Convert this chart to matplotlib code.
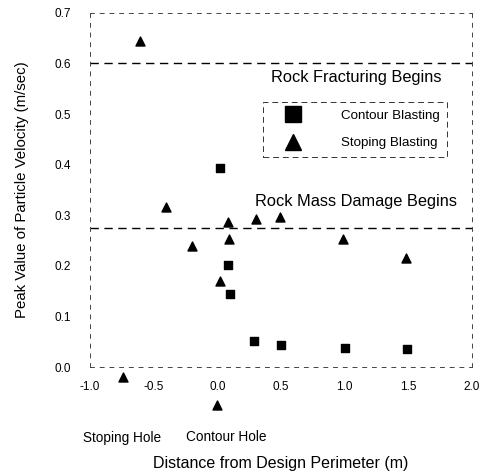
import matplotlib
matplotlib.use('Agg')
import matplotlib.pyplot as plt
from matplotlib.lines import Line2D

# Contour blasting (squares)
contour_x = [0.02, 0.08, 0.10, 0.29, 0.50, 1.00, 1.49]
contour_y = [0.394, 0.202, 0.144, 0.052, 0.043, 0.038, 0.036]

# Stoping blasting (triangles)
stoping_x = [-0.61, -0.40, -0.20, 0.02, 0.08, 0.09, 0.30, 0.49, 0.99, 1.48, -0.74, 0.00]
stoping_y = [0.644, 0.317, 0.240, 0.170, 0.287, 0.253, 0.293, 0.297, 0.253, 0.216, -0.020, -0.075]

# damage thresholds
fracture_level = 0.6
damage_level = 0.275

xticks = [-1.0, -0.5, 0.0, 0.5, 1.0, 1.5, 2.0]
yticks = [0.0, 0.1, 0.2, 0.3, 0.4, 0.5, 0.6, 0.7]

plt.rcParams['font.family'] = ['Liberation Sans', 'DejaVu Sans']

fig = plt.figure(figsize=(4.82, 4.75), dpi=100)
ax = fig.add_axes([0.187, 0.227, 0.792, 0.746])

ax.set_xlim(-1.0, 2.0)
ax.set_ylim(0.0, 0.7)

# threshold lines
ax.axhline(fracture_level, color='black', linestyle=(0, (6, 4)), linewidth=1.0)
ax.axhline(damage_level, color='black', linestyle=(0, (6, 4)), linewidth=1.0)

ax.scatter(contour_x, contour_y, marker='s', s=26, color='black', clip_on=False, zorder=3)
ax.scatter(stoping_x, stoping_y, marker='^', s=42, color='black', clip_on=False, zorder=3)

ax.text(1.09, 0.572, 'Rock Fracturing Begins', fontsize=11.8, ha='center', va='center')
ax.text(1.09, 0.327, 'Rock Mass Damage Begins', fontsize=11.8, ha='center', va='center')

# legend
handles = [
    Line2D([], [], marker='s', color='black', linestyle='none', markersize=11),
    Line2D([], [], marker='^', color='black', linestyle='none', markersize=11),
]
leg = ax.legend(handles, ['Contour Blasting', 'Stoping Blasting'],
                loc='upper left', bbox_to_anchor=(0.452, 0.748),
                fontsize=9.6, frameon=True, fancybox=False,
                handletextpad=1.85, labelspacing=1.15, borderpad=0.55,
                handlelength=3.5, borderaxespad=0)
leg.get_frame().set_edgecolor('black')
leg.get_frame().set_linewidth(0.7)
leg.get_frame().set_linestyle((0, (6, 4)))

ax.set_xticks(xticks)
ax.set_yticks(yticks)
ax.set_xticklabels([f'{v:.1f}' for v in xticks], fontsize=8.5)
ax.set_yticklabels([f'{v:.1f}' for v in yticks], fontsize=8.5)
ax.tick_params(axis='both', length=0)
ax.tick_params(axis='y', pad=14)
ax.tick_params(axis='x', pad=10)

for side in ['top', 'bottom', 'left', 'right']:
    ax.spines[side].set_linestyle((0, (4, 6)))
    ax.spines[side].set_linewidth(0.7)
    ax.spines[side].set_color('#444444')

ax.text(-0.75, -0.139, 'Stoping Hole', fontsize=9.8, ha='center', va='center')
ax.text(0.07, -0.137, 'Contour Hole', fontsize=9.8, ha='center', va='center')

ax.set_xlabel('Distance from Design Perimeter (m)', fontsize=11.5, labelpad=45)
ax.set_ylabel('Peak Value of Particle Velocity (m/sec)', fontsize=10.8, labelpad=18)

fig.savefig('out.png', dpi=100)
